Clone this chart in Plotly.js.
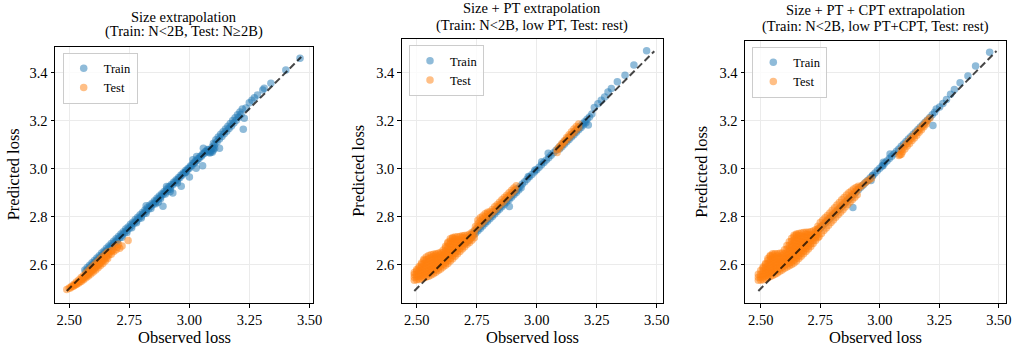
<!DOCTYPE html>
<html>
<head>
<meta charset="utf-8">
<script src="https://cdn.plot.ly/plotly-3.0.1.min.js"></script>
<style>html,body{margin:0;padding:0;background:#fff;}#chart{width:1013px;height:347px;}</style>
</head>
<body>
<div id="chart"></div>
<script>
// ---------------- DATA ----------------
const panelTitles = [
  ["Size extrapolation", "(Train: N<2B, Test: N≥2B)"],
  ["Size + PT extrapolation", "(Train: N<2B, low PT, Test: rest)"],
  ["Size + PT + CPT extrapolation", "(Train: N<2B, low PT+CPT, Test: rest)"]
];
const seriesNames = ["Train", "Test"];
const xTickVals = [2.5, 2.75, 3.0, 3.25, 3.5];
const xTickText = ["2.50", "2.75", "3.00", "3.25", "3.50"];
const yTickVals = [2.6, 2.8, 3.0, 3.2, 3.4];
const yTickText = ["2.6", "2.8", "3.0", "3.2", "3.4"];

// ---- Panel 1: Train ----
const p1TrainObs = [
  2.565,2.575,2.585,2.595,2.605,2.615,2.625,2.635,2.645,2.655,2.665,2.675,2.685,2.695,2.705,2.715,2.725,2.735,2.745,2.755,2.765,2.775,2.785,2.795,2.805,2.815,
  2.825,2.835,2.845,2.855,2.865,2.875,2.885,2.895,2.905,2.915,2.925,2.935,2.945,2.955,2.965,2.975,2.985,2.995,3.005,3.015,3.025,3.035,3.045,3.055,3.065,3.075,
  2.57,2.58,2.59,2.60,2.61,2.62,2.63,2.64,2.65,2.66,2.67,2.68,2.69,2.70,2.71,2.72,2.73,2.74,2.75,2.76,2.77,2.78,2.79,2.80,2.81,2.82,
  2.83,2.84,2.85,2.86,2.87,2.88,2.89,2.90,2.91,2.92,2.93,2.94,2.95,2.96,2.97,2.98,2.99,3.00,3.01,3.02,3.03,3.04,3.05,3.06,3.07,3.08,
  2.58,2.60,2.62,2.64,2.66,2.68,2.70,2.72,2.74,2.76,2.78,2.80,2.82,2.84,2.86,2.88,2.90,2.92,
  3.085,3.09,3.095,3.10,3.088,3.098,3.08,3.105,
  3.10,3.11,3.12,3.13,3.14,3.15,3.16,3.17,3.18,3.19,3.20,3.21,3.22,
  3.095,3.105,3.115,3.125,3.135,3.145,3.155,3.165,3.175,3.185,3.195,3.205,3.215,
  3.46,3.401,3.339,3.311,3.305,3.283,3.27,3.26,3.249,3.235,3.228,3.224,3.125,3.058,3.03,3.014,3.055,3.028,3.0,2.966,2.931,2.89,2.95,2.985,2.92,2.87,2.82,2.905
];
const p1TrainPred = [
  2.578,2.588,2.597,2.608,2.617,2.628,2.637,2.648,2.657,2.668,2.677,2.688,2.697,2.708,2.717,2.728,2.737,2.748,2.757,2.768,2.777,2.788,2.797,2.808,2.817,2.828,
  2.837,2.847,2.856,2.866,2.876,2.886,2.895,2.905,2.915,2.925,2.934,2.944,2.954,2.963,2.973,2.983,2.993,3.002,3.012,3.022,3.032,3.041,3.051,3.061,3.07,3.08,
  2.572,2.582,2.592,2.602,2.612,2.622,2.632,2.642,2.652,2.662,2.672,2.682,2.692,2.702,2.712,2.722,2.732,2.742,2.752,2.762,2.772,2.782,2.792,2.802,2.812,2.822,
  2.832,2.842,2.852,2.862,2.872,2.882,2.892,2.902,2.912,2.922,2.932,2.942,2.952,2.962,2.972,2.982,2.992,3.002,3.012,3.022,3.032,3.042,3.052,3.062,3.071,3.079,
  2.574,2.594,2.614,2.634,2.654,2.674,2.694,2.714,2.734,2.754,2.774,2.794,2.814,2.834,2.854,2.874,2.894,2.914,
  3.065,3.07,3.068,3.078,3.076,3.085,3.068,3.085,
  3.106,3.12,3.132,3.143,3.154,3.165,3.176,3.188,3.2,3.212,3.224,3.236,3.248,
  3.09,3.1,3.112,3.123,3.134,3.145,3.156,3.167,3.178,3.19,3.202,3.214,3.226,
  3.46,3.411,3.356,3.335,3.328,3.307,3.295,3.285,3.274,3.253,3.21,3.164,3.085,3.085,3.05,3.037,3.012,3.002,2.965,2.926,2.898,2.843,2.94,2.985,2.905,2.86,2.845,2.925
];
// ---- Panel 1: Test ----
const p1TestObs = [
  2.49,2.50,2.51,2.52,2.53,2.54,2.55,2.56,2.57,2.58,2.59,2.60,2.61,2.62,2.63,2.64,2.65,2.66,
  2.505,2.515,2.525,2.535,2.545,2.555,2.565,2.575,2.585,2.595,2.605,2.615,2.625,2.635,2.645,2.655,2.665,
  2.52,2.53,2.54,2.55,2.56,2.57,2.58,2.59,2.60,2.61,2.62,2.63,2.64,2.65,2.66,
  2.555,2.565,2.575,2.585,2.595,2.605,2.615,2.625,2.635,2.645,2.655,2.665,2.675,
  2.675,2.685,2.695,2.70,2.71,2.72,2.745,2.68,2.69,2.705
];
const p1TestPred = [
  2.496,2.502,2.51,2.518,2.527,2.536,2.546,2.555,2.565,2.575,2.585,2.595,2.605,2.614,2.624,2.634,2.643,2.652,
  2.503,2.509,2.516,2.523,2.531,2.539,2.548,2.556,2.565,2.574,2.583,2.592,2.601,2.611,2.62,2.63,2.64,
  2.512,2.517,2.523,2.53,2.537,2.545,2.553,2.561,2.569,2.578,2.587,2.596,2.605,2.615,2.625,
  2.542,2.551,2.56,2.569,2.579,2.588,2.597,2.607,2.617,2.627,2.637,2.647,2.657,
  2.643,2.655,2.662,2.672,2.668,2.678,2.70,2.66,2.675,2.685
];

// ---- Panel 2: Train ----
const p2TrainObs = [
  2.70,2.71,2.72,2.73,2.74,2.75,2.76,2.77,2.78,2.79,2.80,2.81,2.82,2.83,2.84,2.85,2.86,2.87,2.88,2.89,
  2.90,2.91,2.92,2.93,2.94,2.95,2.96,2.97,2.98,2.99,3.00,3.01,3.02,3.03,3.04,3.05,3.06,3.07,3.08,
  2.705,2.715,2.725,2.735,2.745,2.755,2.765,2.775,2.785,2.795,2.805,2.815,2.825,2.835,2.845,2.855,2.865,2.875,2.885,2.895,2.905,2.915,2.925,2.935,
  3.09,3.10,3.11,3.12,3.13,3.14,3.15,3.16,3.17,3.18,3.19,3.20,3.21,3.22,3.23,
  3.095,3.105,3.115,3.125,3.135,3.145,3.155,3.165,3.175,3.185,3.195,3.205,
  3.458,3.405,3.368,3.336,3.311,3.297,3.283,3.269,3.255,3.24,3.215,2.886,3.021,3.048,2.993,2.965
];
const p2TrainPred = [
  2.696,2.706,2.716,2.726,2.737,2.746,2.756,2.766,2.776,2.786,2.796,2.806,2.816,2.826,2.836,2.846,2.856,2.866,2.876,2.886,
  2.896,2.906,2.916,2.926,2.936,2.946,2.956,2.966,2.976,2.986,2.996,3.006,3.016,3.026,3.036,3.046,3.056,3.066,3.076,
  2.691,2.701,2.711,2.721,2.731,2.741,2.751,2.761,2.771,2.781,2.791,2.801,2.811,2.821,2.831,2.841,2.851,2.861,2.871,2.881,2.891,2.901,2.911,2.921,
  3.086,3.096,3.106,3.116,3.126,3.136,3.146,3.156,3.166,3.176,3.186,3.196,3.206,3.216,3.228,
  3.082,3.092,3.102,3.112,3.122,3.132,3.142,3.152,3.162,3.172,3.182,3.192,
  3.492,3.432,3.39,3.362,3.334,3.32,3.299,3.285,3.271,3.255,3.182,2.842,3.029,3.064,2.995,2.967
];
// ---- Panel 2: Test ----
const p2TestObs = [
  2.49,2.49,2.49,2.49,
  2.50,2.50,2.50,2.50,2.50,
  2.51,2.51,2.51,2.51,2.51,2.51,
  2.52,2.52,2.52,2.52,2.52,2.52,2.52,
  2.53,2.53,2.53,2.53,2.53,2.53,2.53,2.53,
  2.54,2.54,2.54,2.54,2.54,2.54,2.54,2.54,
  2.55,2.55,2.55,2.55,2.55,2.55,2.55,2.55,
  2.56,2.56,2.56,2.56,2.56,2.56,2.56,2.56,
  2.57,2.57,2.57,2.57,2.57,2.57,2.57,2.57,
  2.58,2.58,2.58,2.58,2.58,2.58,2.58,2.58,
  2.59,2.59,2.59,2.59,2.59,2.59,2.59,
  2.60,2.60,2.60,2.60,2.60,2.60,2.60,
  2.61,2.61,2.61,2.61,2.61,2.61,2.61,
  2.62,2.62,2.62,2.62,2.62,2.62,2.62,2.62,
  2.63,2.63,2.63,2.63,2.63,2.63,2.63,2.63,2.63,
  2.64,2.64,2.64,2.64,2.64,2.64,2.64,2.64,2.64,
  2.65,2.65,2.65,2.65,2.65,2.65,2.65,2.65,2.65,
  2.66,2.66,2.66,2.66,2.66,2.66,2.66,2.66,
  2.67,2.67,2.67,2.67,2.67,2.67,2.67,
  2.68,2.68,2.68,2.68,2.68,2.68,
  2.69,2.69,2.69,2.69,2.69,2.69,
  2.70,2.70,2.70,2.70,2.70,
  2.71,2.71,2.71,2.71,
  2.72,2.72,2.72,2.72,
  2.73,2.73,2.73,2.73,
  2.74,2.74,2.74,
  2.745,2.755,2.765,2.775,2.785,2.795,2.805,2.815,2.825,2.835,2.845,2.855,2.865,2.875,2.885,2.895,2.905,2.915,
  2.75,2.76,2.77,2.78,2.79,2.80,2.81,2.82,2.83,2.84,2.85,2.86,2.87,2.88,2.89,2.90,2.91,
  2.755,2.765,2.775,2.785,2.795,
  3.085,3.095,3.105,3.115,3.125,3.135,3.145,3.155,3.165,3.175,
  3.085,3.095,3.105,3.115,3.125,3.135,3.145,3.155,3.165,3.175
];
const p2TestPred = [
  2.535,2.547,2.559,2.567,
  2.537,2.549,2.561,2.573,2.58,
  2.538,2.55,2.562,2.574,2.586,2.592,
  2.541,2.553,2.565,2.577,2.589,2.601,2.607,
  2.545,2.557,2.569,2.581,2.593,2.605,2.617,2.622,
  2.548,2.56,2.572,2.584,2.596,2.608,2.62,2.632,
  2.552,2.564,2.576,2.588,2.60,2.612,2.624,2.638,
  2.557,2.569,2.581,2.593,2.605,2.617,2.629,2.641,
  2.562,2.574,2.586,2.598,2.61,2.622,2.634,2.643,
  2.568,2.58,2.592,2.604,2.616,2.628,2.64,2.645,
  2.575,2.587,2.599,2.611,2.623,2.635,2.647,
  2.582,2.594,2.606,2.618,2.63,2.642,2.651,
  2.59,2.602,2.614,2.626,2.638,2.65,2.66,
  2.597,2.609,2.621,2.633,2.645,2.657,2.669,2.677,
  2.605,2.617,2.629,2.641,2.653,2.665,2.677,2.689,2.693,
  2.615,2.627,2.639,2.651,2.663,2.675,2.687,2.699,2.708,
  2.625,2.637,2.649,2.661,2.673,2.685,2.697,2.709,2.713,
  2.635,2.647,2.659,2.671,2.683,2.695,2.707,2.715,
  2.645,2.657,2.669,2.681,2.693,2.705,2.716,
  2.655,2.667,2.679,2.691,2.703,2.717,
  2.665,2.677,2.689,2.701,2.713,2.72,
  2.675,2.687,2.699,2.711,2.721,
  2.685,2.697,2.709,2.722,
  2.692,2.704,2.716,2.727,
  2.702,2.714,2.726,2.734,
  2.712,2.727,2.742,
  2.759,2.77,2.781,2.79,2.80,2.811,2.82,2.83,2.841,2.85,2.86,2.871,2.88,2.889,2.90,2.91,2.92,2.929,
  2.752,2.762,2.771,2.782,2.792,2.801,2.812,2.822,2.831,2.842,2.852,2.861,2.872,2.882,2.891,2.902,2.912,
  2.785,2.795,2.803,2.812,2.818,
  3.08,3.093,3.105,3.117,3.13,3.142,3.154,3.165,3.176,3.186,
  3.068,3.085,3.099,3.11,3.121,3.131,3.141,3.151,3.162,3.172
];

// ---- Panel 3: Train ----
const p3TrainObs = [
  2.74,2.75,2.76,2.77,2.78,2.79,2.80,2.81,2.82,2.83,2.84,2.85,2.86,2.87,2.88,2.89,2.90,2.91,
  2.92,2.93,2.94,2.95,2.96,2.97,2.98,2.99,3.00,3.01,3.02,3.03,3.04,3.05,3.06,3.07,3.08,
  3.09,3.10,3.11,3.12,3.13,3.14,3.15,3.16,3.17,3.18,3.19,3.20,3.21,3.22,3.23,
  3.461,3.402,3.37,3.337,3.313,3.297,3.28,3.265,3.251,3.237,3.223,2.887,2.963,2.97,3.013,3.043,3.015
];
const p3TrainPred = [
  2.742,2.752,2.762,2.772,2.782,2.792,2.802,2.812,2.822,2.832,2.842,2.852,2.862,2.872,2.882,2.892,2.902,2.912,
  2.922,2.932,2.942,2.952,2.962,2.972,2.982,2.992,3.002,3.012,3.022,3.032,3.042,3.052,3.062,3.072,3.082,
  3.093,3.103,3.113,3.123,3.133,3.143,3.153,3.163,3.173,3.183,3.193,3.203,3.213,3.224,3.235,
  3.485,3.428,3.386,3.358,3.33,3.31,3.288,3.271,3.257,3.248,3.18,2.838,2.95,2.97,3.012,3.061,3.026
];
// ---- Panel 3: Test ----
const p3TestObs = [
  2.49,2.49,2.49,
  2.50,2.50,2.50,2.50,
  2.51,2.51,2.51,2.51,2.51,2.51,
  2.52,2.52,2.52,2.52,2.52,2.52,2.52,
  2.53,2.53,2.53,2.53,2.53,2.53,2.53,2.53,
  2.54,2.54,2.54,2.54,2.54,2.54,2.54,2.54,2.54,
  2.55,2.55,2.55,2.55,2.55,2.55,2.55,2.55,2.55,
  2.56,2.56,2.56,2.56,2.56,2.56,2.56,2.56,
  2.57,2.57,2.57,2.57,2.57,2.57,2.57,2.57,
  2.58,2.58,2.58,2.58,2.58,2.58,2.58,
  2.59,2.59,2.59,2.59,2.59,2.59,2.59,
  2.60,2.60,2.60,2.60,2.60,2.60,2.60,
  2.61,2.61,2.61,2.61,2.61,2.61,2.61,2.61,
  2.62,2.62,2.62,2.62,2.62,2.62,2.62,2.62,2.62,
  2.63,2.63,2.63,2.63,2.63,2.63,2.63,2.63,2.63,2.63,
  2.64,2.64,2.64,2.64,2.64,2.64,2.64,2.64,2.64,2.64,2.64,
  2.65,2.65,2.65,2.65,2.65,2.65,2.65,2.65,2.65,2.65,2.65,
  2.66,2.66,2.66,2.66,2.66,2.66,2.66,2.66,2.66,2.66,
  2.67,2.67,2.67,2.67,2.67,2.67,2.67,2.67,2.67,
  2.68,2.68,2.68,2.68,2.68,2.68,2.68,2.68,
  2.69,2.69,2.69,2.69,2.69,2.69,2.69,2.69,
  2.70,2.70,2.70,2.70,2.70,2.70,2.70,
  2.71,2.71,2.71,2.71,2.71,2.71,
  2.72,2.72,2.72,2.72,2.72,
  2.73,2.73,2.73,2.73,2.73,
  2.74,2.74,2.74,2.74,2.74,
  2.75,2.76,2.77,2.78,2.79,2.80,2.81,2.82,2.83,2.84,2.85,2.86,2.87,2.88,2.89,2.90,2.91,
  2.745,2.755,2.765,2.775,2.785,2.795,2.805,2.815,2.825,2.835,2.845,2.855,2.865,2.875,2.885,2.895,2.905,2.915,2.925,2.935,2.945,2.955,2.965,
  2.745,2.755,2.765,2.775,2.785,2.795,2.805,2.815,2.825,2.835,2.845,2.855,2.865,2.875,2.885,2.895,2.905,
  3.09,3.10,3.11,3.12,3.13,3.14,3.15,3.16,3.17,3.18,3.19,3.20,3.21,
  3.085,3.095,3.105,3.115,3.125,3.135,3.145,3.155,3.165,3.175,3.185,3.195,
  3.08,3.09
];
const p3TestPred = [
  2.535,2.547,2.56,
  2.536,2.548,2.56,2.575,
  2.537,2.549,2.561,2.573,2.585,2.59,
  2.54,2.552,2.564,2.576,2.588,2.60,2.605,
  2.545,2.557,2.569,2.581,2.593,2.605,2.617,2.625,
  2.55,2.562,2.574,2.586,2.598,2.61,2.622,2.634,2.638,
  2.555,2.567,2.579,2.591,2.603,2.615,2.627,2.639,2.645,
  2.56,2.572,2.584,2.596,2.608,2.62,2.632,2.645,
  2.565,2.577,2.589,2.601,2.613,2.625,2.637,2.645,
  2.572,2.584,2.596,2.608,2.62,2.632,2.647,
  2.578,2.59,2.602,2.614,2.626,2.638,2.648,
  2.585,2.597,2.609,2.621,2.633,2.645,2.662,
  2.59,2.602,2.614,2.626,2.638,2.65,2.665,2.68,
  2.595,2.607,2.619,2.631,2.643,2.655,2.667,2.681,2.695,
  2.60,2.612,2.624,2.636,2.648,2.66,2.672,2.684,2.697,2.71,
  2.607,2.619,2.631,2.643,2.655,2.667,2.679,2.691,2.703,2.715,2.722,
  2.615,2.627,2.639,2.651,2.663,2.675,2.687,2.699,2.711,2.723,2.728,
  2.625,2.637,2.649,2.661,2.673,2.685,2.697,2.709,2.721,2.73,
  2.635,2.647,2.659,2.671,2.683,2.695,2.707,2.719,2.732,
  2.645,2.657,2.669,2.681,2.693,2.705,2.717,2.734,
  2.655,2.667,2.679,2.691,2.703,2.715,2.727,2.735,
  2.665,2.677,2.689,2.701,2.713,2.725,2.735,
  2.675,2.687,2.699,2.711,2.723,2.737,
  2.688,2.70,2.712,2.724,2.74,
  2.70,2.712,2.724,2.736,2.745,
  2.712,2.724,2.736,2.748,2.76,
  2.775,2.785,2.795,2.805,2.815,2.826,2.837,2.848,2.859,2.87,2.88,2.89,2.899,2.907,2.915,2.921,2.926,
  2.751,2.761,2.771,2.781,2.791,2.801,2.811,2.821,2.831,2.842,2.852,2.862,2.872,2.882,2.892,2.902,2.912,2.921,2.93,2.938,2.946,2.953,2.96,
  2.717,2.73,2.742,2.753,2.764,2.775,2.786,2.797,2.808,2.818,2.829,2.84,2.85,2.861,2.871,2.881,2.891,
  3.078,3.09,3.102,3.113,3.124,3.135,3.146,3.157,3.168,3.179,3.19,3.20,3.21,
  3.058,3.07,3.082,3.094,3.105,3.117,3.128,3.139,3.151,3.162,3.174,3.186,
  3.055,3.06
];

// identity reference line endpoints per panel
const p1Diag = [2.49, 3.465];
const p2Diag = [2.49, 3.49];
const p3Diag = [2.49, 3.49];

// ---------------- LAYOUT ----------------
const W = 1013, H = 347;
const FONT = "Liberation Serif, Times New Roman, serif";
const panels = [
  {box:[55, 313, 46.7, 303], xr:[2.441, 3.514], yr:[2.44, 3.508], train:[p1TrainObs,p1TrainPred], test:[p1TestObs,p1TestPred], diag:p1Diag,
   t1y:16.5, t2y:32, ylab:13.5, leg:[62.7, 52.7]},
  {box:[401.7, 662.7, 38.7, 303], xr:[2.4375, 3.525], yr:[2.44, 3.542], train:[p2TrainObs,p2TrainPred], test:[p2TestObs,p2TestPred], diag:p2Diag,
   t1y:8, t2y:25, ylab:359, leg:[409, 45]},
  {box:[745, 1006.3, 40.7, 303], xr:[2.434, 3.531], yr:[2.44, 3.533], train:[p3TrainObs,p3TrainPred], test:[p3TestObs,p3TestPred], diag:p3Diag,
   t1y:10.5, t2y:26.5, ylab:702, leg:[752.3, 46.7]}
];
const colors = ["#1f77b4", "#ff7f0e"];
const traces = [];
const layout = {
  width: W, height: H, margin:{l:0,r:0,t:0,b:0},
  paper_bgcolor:"#fff", plot_bgcolor:"#fff",
  font:{family:FONT, size:14, color:"#000"},
  showlegend:true, annotations:[]
};
panels.forEach((p, i) => {
  const n = i === 0 ? "" : String(i+1);
  const xa = "x"+n, ya = "y"+n;
  const legName = "legend"+n;
  const axCommon = {
    showline:true, mirror:true, linecolor:"#000", linewidth:1,
    ticks:"outside", ticklen:3.5, tickwidth:1, tickcolor:"#000",
    showgrid:true, gridcolor:"#ebebeb", gridwidth:1, zeroline:false,
    tickfont:{family:FONT, size:14.5, color:"#000"}, fixedrange:true
  };
  layout["xaxis"+n] = Object.assign({}, axCommon, {
    domain:[p.box[0]/W, p.box[1]/W], range:p.xr, anchor:ya,
    tickmode:"array", tickvals:xTickVals, ticktext:xTickText
  });
  layout["yaxis"+n] = Object.assign({}, axCommon, {
    domain:[1-p.box[3]/H, 1-p.box[2]/H], range:p.yr, anchor:xa,
    tickmode:"array", tickvals:yTickVals, ticktext:yTickText
  });
  layout[legName] = {
    x:p.leg[0]/W, y:1-p.leg[1]/H, xanchor:"left", yanchor:"top",
    bgcolor:"rgba(255,255,255,0.8)", bordercolor:"#cccccc", borderwidth:1,
    font:{family:FONT, size:12.5, color:"#000"}, tracegroupgap:0, itemwidth:30
  };
  [p.train, p.test].forEach((d, k) => {
    traces.push({
      type:"scatter", mode:"markers", x:d[0], y:d[1], xaxis:xa, yaxis:ya,
      name:seriesNames[k], legend:legName, showlegend:true,
      marker:{color:colors[k], size:7.5, opacity:0.5, line:{width:0}},
      hoverinfo:"skip"
    });
  });
  traces.push({
    type:"scatter", mode:"lines", x:p.diag, y:p.diag, xaxis:xa, yaxis:ya,
    showlegend:false, line:{color:"rgba(0,0,0,0.72)", width:2, dash:"7px,3.5px"}, hoverinfo:"skip"
  });
  const cx = (p.box[0]+p.box[1])/2/W;
  layout.annotations.push(
    {xref:"paper", yref:"paper", x:cx, y:1-p.t1y/H, xanchor:"center", yanchor:"middle", showarrow:false,
     text:panelTitles[i][0].replace(/</g,"&lt;"), font:{family:FONT, size:14.5, color:"#000"}},
    {xref:"paper", yref:"paper", x:cx, y:1-p.t2y/H, xanchor:"center", yanchor:"middle", showarrow:false,
     text:panelTitles[i][1].replace(/</g,"&lt;"), font:{family:FONT, size:14.5, color:"#000"}},
    {xref:"paper", yref:"paper", x:cx, y:1-337.5/H, xanchor:"center", yanchor:"middle", showarrow:false,
     text:"Observed loss", font:{family:FONT, size:16.5, color:"#000"}},
    {xref:"paper", yref:"paper", x:p.ylab/W, y:1-((p.box[2]+p.box[3])/2)/H, xanchor:"center", yanchor:"middle", showarrow:false,
     textangle:-90, text:"Predicted loss", font:{family:FONT, size:16.5, color:"#000"}}
  );
});
Plotly.newPlot("chart", traces, layout, {displayModeBar:false, staticPlot:true});
</script>
</body>
</html>
